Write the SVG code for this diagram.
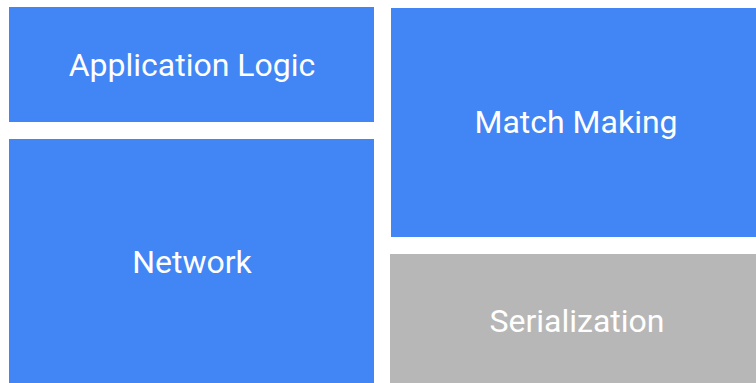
<svg xmlns="http://www.w3.org/2000/svg" width="756" height="383" viewBox="0 0 756 383">
<style>
.blue{fill:#4285f4}
.gray{fill:#b7b7b7}
text{font-family:Roboto,"Open Sans",sans-serif;font-size:32px;fill:#ffffff;text-anchor:middle}
</style>
<rect width="756" height="383" fill="#ffffff"/>
<g id="application-logic">
<rect class="blue" x="9" y="7" width="365" height="115"/>
<text x="192" y="76">Application Logic</text>
</g>
<g id="network">
<rect class="blue" x="9" y="139" width="365" height="244"/>
<text x="192" y="273">Network</text>
</g>
<g id="match-making">
<rect class="blue" x="391" y="8" width="365" height="229"/>
<text x="576" y="133">Match Making</text>
</g>
<g id="serialization">
<rect class="gray" x="390" y="254" width="366" height="129"/>
<text x="577" y="332">Serialization</text>
</g>
<g id="connectors"></g>
</svg>
